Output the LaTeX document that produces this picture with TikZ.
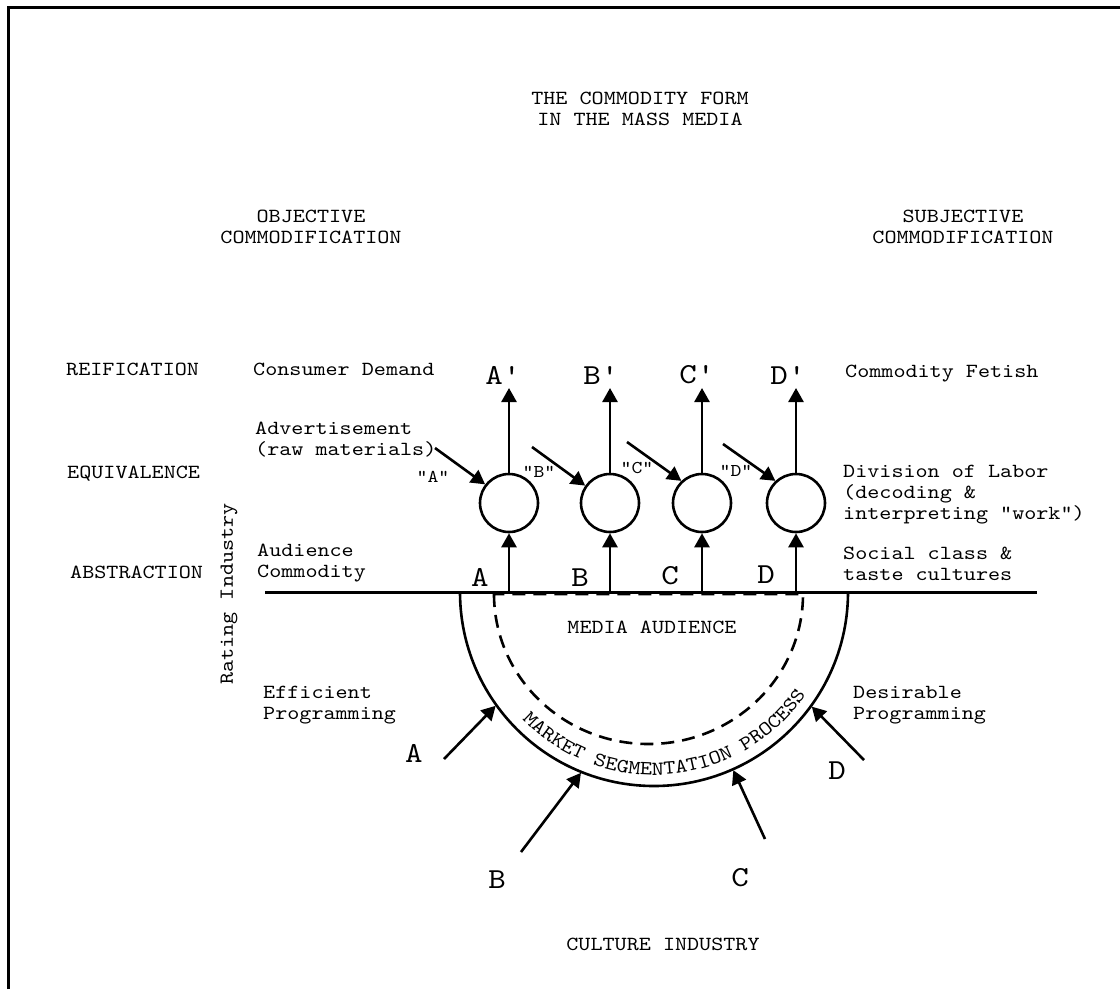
\documentclass[tikz,border=0pt]{standalone}
\usepackage{fontspec}
\newfontfamily\cour{lmmono10-regular.otf}[FakeStretch=1.15]
\usetikzlibrary{arrows.meta,decorations.text}
\begin{document}
\begin{tikzpicture}[x=1pt,y=1pt,
  txt/.style={font=\cour\fontsize{20}{21}\selectfont, inner sep=0pt, align=left},
  ctxt/.style={txt, align=center},
  big/.style={font=\cour\fontsize{29}{30}\selectfont, inner sep=0pt},
  qt/.style={font=\cour\fontsize{18}{18}\selectfont, inner sep=0pt},
  conn/.style={line width=2.6pt, -{Triangle[length=14pt,width=15pt]}},
  proc/.style={circle, draw, line width=2.6pt, minimum size=58pt, inner sep=0pt},
  thin/.style={line width=2.6pt}]
\useasboundingbox (0,0) rectangle (1120,-989);
% frame
\draw[line width=3pt] (8.5,-989) -- (8.5,-7.5) -- (1120,-7.5);

% titles
\node[ctxt] (title) at (640,-108.5) {THE COMMODITY FORM\\IN THE MASS MEDIA};
\node[ctxt] (objective) at (311,-227) {OBJECTIVE\\COMMODIFICATION};
\node[ctxt] (subjective) at (963,-227) {SUBJECTIVE\\COMMODIFICATION};

% row labels
\node[txt, anchor=west] (reif) at (66,-369) {REIFICATION};
\node[txt, anchor=west] (equiv) at (67,-474) {EQUIVALENCE};
\node[txt, anchor=west] (abstr) at (70,-572) {ABSTRACTION};

\node[txt, anchor=west] (demand) at (253,-369) {Consumer Demand};
\node[txt, anchor=west] (advert) at (255,-439.5) {Advertisement\\(raw materials)};
\node[txt, anchor=west] (audcom) at (257,-563) {Audience\\Commodity};
\node[txt, rotate=90] (rating) at (229,-594) {Rating Industry};

\node[txt, anchor=west] (fetish) at (845,-374) {Commodity Fetish};
\node[txt, anchor=west] (labor) at (843,-494.5) {Division of Labor\\(decoding \&\\interpreting "work")};
\node[txt, anchor=west] (social) at (843,-563.5) {Social class \&\\taste cultures};

% base line
\coordinate (lineL) at (265,-592);
\coordinate (lineR) at (1037,-592);
\draw[line width=3pt] (lineL) -- (lineR);

% processing circles
\node[proc] (cA) at (509,-503) {};
\node[proc] (cB) at (610,-503) {};
\node[proc] (cC) at (702,-503) {};
\node[proc] (cD) at (796,-503) {};

% outputs
\coordinate (tA) at (509,-388);
\coordinate (tB) at (610,-388);
\coordinate (tC) at (702,-388);
\coordinate (tD) at (796,-388);
\draw[conn] (cA.north) -- (tA);
\draw[conn] (cB.north) -- (tB);
\draw[conn] (cC.north) -- (tC);
\draw[conn] (cD.north) -- (tD);
\node[big] (oA) at (503,-375) {A'};
\node[big] (oB) at (601,-375) {B'};
\node[big] (oC) at (697,-375) {C'};
\node[big] (oD) at (788,-375) {D'};

% inputs from line
\coordinate (bA) at (509,-592);
\coordinate (bB) at (610,-592);
\coordinate (bC) at (702,-592);
\coordinate (bD) at (796,-592);
\draw[conn] (bA) -- (cA.south);
\draw[conn] (bB) -- (cB.south);
\draw[conn] (bC) -- (cC.south);
\draw[conn] (bD) -- (cD.south);
\node[big] (lA) at (480,-577) {A};
\node[big] (lB) at (580,-578) {B};
\node[big] (lC) at (670,-576) {C};
\node[big] (lD) at (766,-575) {D};

% advertisement inputs
\coordinate (sA) at (435,-448);
\coordinate (sB) at (532,-447);
\coordinate (sC) at (627,-442);
\coordinate (sD) at (723,-444);
\draw[conn] (sA) -- (cA.142);
\draw[conn] (sB) -- (cB.145);
\draw[conn] (sC) -- (cC.133);
\draw[conn] (sD) -- (cD.133);
\node[qt] (qA) at (433,-477) {"A"};
\node[qt] (qB) at (539,-472) {"B"};
\node[qt] (qC) at (637,-468) {"C"};
\node[qt] (qD) at (736,-471) {"D"};

% media audience half circles
\coordinate (O) at (654,-592);
\draw[thin] (460,-592) arc[start angle=180, end angle=360, radius=194];
\draw[thin, dash pattern=on 13pt off 8pt] (494,-594) arc[start angle=180, end angle=360, x radius=154.5, y radius=150] -- cycle;
\node[txt] (media) at (652,-627.5) {MEDIA AUDIENCE};
\path[decorate, decoration={text along path, text align=center,
  text={|\cour\fontsize{20}{20}\selectfont|MARKET SEGMENTATION PROCESS}}]
  (O) ++(200:183) arc[start angle=200, end angle=350, radius=183];

% programming inputs
\coordinate (eA) at ([shift={(215.7:195)}]O);
\coordinate (eB) at ([shift={(248:195)}]O);
\coordinate (eC) at ([shift={(294:195)}]O);
\coordinate (eD) at ([shift={(324:195)}]O);
\coordinate (pA) at (444,-759);
\coordinate (pB) at (521,-852);
\coordinate (pC) at (765,-839);
\coordinate (pD) at (864,-760);
\draw[conn] (pA) -- (eA);
\draw[conn] (pB) -- (eB);
\draw[conn] (pC) -- (eC);
\draw[conn] (pD) -- (eD);
\node[big] (gA) at (414,-753) {A};
\node[big] (gB) at (497,-880) {B};
\node[big] (gC) at (740,-878) {C};
\node[big] (gD) at (837,-771) {D};

\node[txt, anchor=west] (efficient) at (263,-705) {Efficient\\Programming};
\node[txt, anchor=west] (desirable) at (853,-705) {Desirable\\Programming};
\node[txt] (culture) at (663,-944) {CULTURE INDUSTRY};
\end{tikzpicture}
\end{document}
